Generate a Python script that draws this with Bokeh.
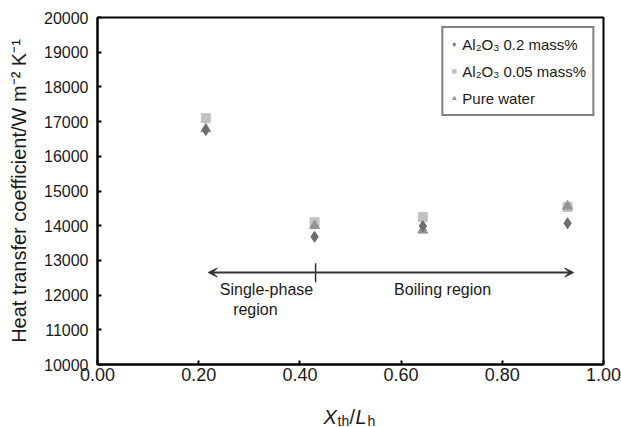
from bokeh.plotting import figure
from bokeh.layouts import column
from bokeh.models import (Legend, LegendItem, Label, Arrow, VeeHead,
                          FixedTicker, NumeralTickFormatter, Range1d)
from bokeh.embed import file_html
from bokeh.resources import INLINE

# ---- data ----
x_pos = [0.214, 0.429, 0.643, 0.929]
al2o3_02 = [16760, 13680, 13990, 14070]     # diamonds
al2o3_005 = [17100, 14100, 14250, 14540]    # squares
pure_water = [16790, 14000, 13870, 14560]   # triangles

series_labels = ["Al\u2082O\u2083 0.2 mass%", "Al\u2082O\u2083 0.05 mass%", "Pure water"]
x_ticks = [0.0, 0.2, 0.4, 0.6, 0.8, 1.0]
y_ticks = list(range(10000, 20001, 1000))

arrow_y = 12650
arrow_x = [0.219, 0.941]
divider_x = 0.431

FONT = "Liberation Sans"
INK = "#1a1a1a"

MAIN_H = 389
LAB_H = 427 - MAIN_H

p = figure(width=621, height=MAIN_H, output_backend="svg", toolbar_location=None,
           x_range=Range1d(0, 1), y_range=Range1d(10000, 20000),
           min_border_left=97, min_border_right=18, min_border_top=17,
           min_border_bottom=MAIN_H - 364)
p.background_fill_color = "white"
p.border_fill_color = "white"
p.outline_line_color = "black"
p.outline_line_width = 2
p.grid.visible = False

for ax in (p.xaxis[0], p.yaxis[0]):
    ax.axis_line_color = "black"
    ax.axis_line_width = 2
    ax.major_tick_in = 4
    ax.major_tick_out = 0
    ax.minor_tick_line_color = None
    ax.major_tick_line_color = "black"
    ax.major_tick_line_width = 2
    ax.major_label_text_font = FONT
    ax.major_label_text_color = INK

p.xaxis.ticker = FixedTicker(ticks=x_ticks)
p.xaxis.formatter = NumeralTickFormatter(format="0.00")
p.xaxis.major_label_text_font_size = "18px"
p.xaxis.major_label_standoff = 3

p.yaxis.ticker = FixedTicker(ticks=y_ticks)
p.yaxis.formatter = NumeralTickFormatter(format="0")
p.yaxis.major_label_text_font_size = "16px"
p.yaxis.major_label_standoff = 9
p.yaxis.axis_label = "Heat transfer coefficient/W m\u207b\u00b2 K\u207b\u00b9"
p.yaxis.axis_label_text_font = FONT
p.yaxis.axis_label_text_font_style = "normal"
p.yaxis.axis_label_text_font_size = "20px"
p.yaxis.axis_label_text_color = INK
p.yaxis.axis_label_standoff = 11

# markers
r_sq = p.scatter(x_pos, al2o3_005, marker="square", size=9,
                 fill_color="#c2c2c2", line_color="#c2c2c2")
r_tri = p.scatter(x_pos, pure_water, marker="triangle", size=10,
                  fill_color="#959595", line_color="#959595")
r_dia = p.scatter(x_pos, al2o3_02, marker="diamond", size=11,
                  fill_color="#6e6e6e", line_color="#6e6e6e")

legend = Legend(items=[LegendItem(label=series_labels[0], renderers=[r_dia]),
                       LegendItem(label=series_labels[1], renderers=[r_sq]),
                       LegendItem(label=series_labels[2], renderers=[r_tri])],
                location="top_right", margin=9, padding=6, spacing=7,
                glyph_width=9, glyph_height=20, label_height=20,
                label_standoff=4, label_text_font=FONT,
                label_text_font_size="15px", label_text_color=INK,
                border_line_color="black", border_line_width=2,
                background_fill_alpha=1.0)
p.add_layout(legend)

# double arrow and divider
p.add_layout(Arrow(start=VeeHead(size=9, fill_color="#333333", line_color="#333333"),
                   end=VeeHead(size=9, fill_color="#333333", line_color="#333333"),
                   x_start=arrow_x[0], y_start=arrow_y, x_end=arrow_x[1], y_end=arrow_y,
                   line_color="#333333", line_width=2))
p.segment(x0=[divider_x], y0=[arrow_y - 280], x1=[divider_x], y1=[arrow_y + 270],
          line_color="#333333", line_width=1.5)

def txt(fig, x, y, s, size="16px", style="normal", align="center", baseline="middle", xoff=0):
    fig.add_layout(Label(x=x, y=y, text=s, text_font=FONT, text_font_size=size,
                         text_font_style=style, text_align=align, text_baseline=baseline,
                         text_color=INK, x_offset=xoff))

txt(p, 0.334, 12160, "Single-phase")
txt(p, 0.312, 11585, "region")
txt(p, 0.682, 12160, "Boiling region")

# strip below the chart carrying the x-axis title X_th / L_h;
# its frame is aligned with the main frame, so it shares the 0..1 x range
q = figure(width=621, height=LAB_H, output_backend="svg", toolbar_location=None,
           x_range=Range1d(0, 1), y_range=Range1d(0, LAB_H),
           x_axis_location=None, y_axis_location=None,
           min_border=0, min_border_left=0, min_border_right=0,
           min_border_top=0, min_border_bottom=0)
q.grid.visible = False
q.outline_line_color = None
q.background_fill_color = "white"
q.border_fill_color = "white"

base_y = 427 - 416
sub_y = 427 - 420
mid = 0.5
txt(q, mid, base_y, "X", size="20px", style="italic", align="left", baseline="alphabetic", xoff=-27)
txt(q, mid, sub_y, "th", size="14px", align="left", baseline="alphabetic", xoff=-13)
txt(q, mid, base_y, "/", size="20px", align="left", baseline="alphabetic", xoff=-1)
txt(q, mid, base_y, "L", size="20px", style="italic", align="left", baseline="alphabetic", xoff=5)
txt(q, mid, sub_y, "h", size="14px", align="left", baseline="alphabetic", xoff=17)

layout = column(p, q, spacing=0)
open("out.html", "w").write(file_html(layout, INLINE))
